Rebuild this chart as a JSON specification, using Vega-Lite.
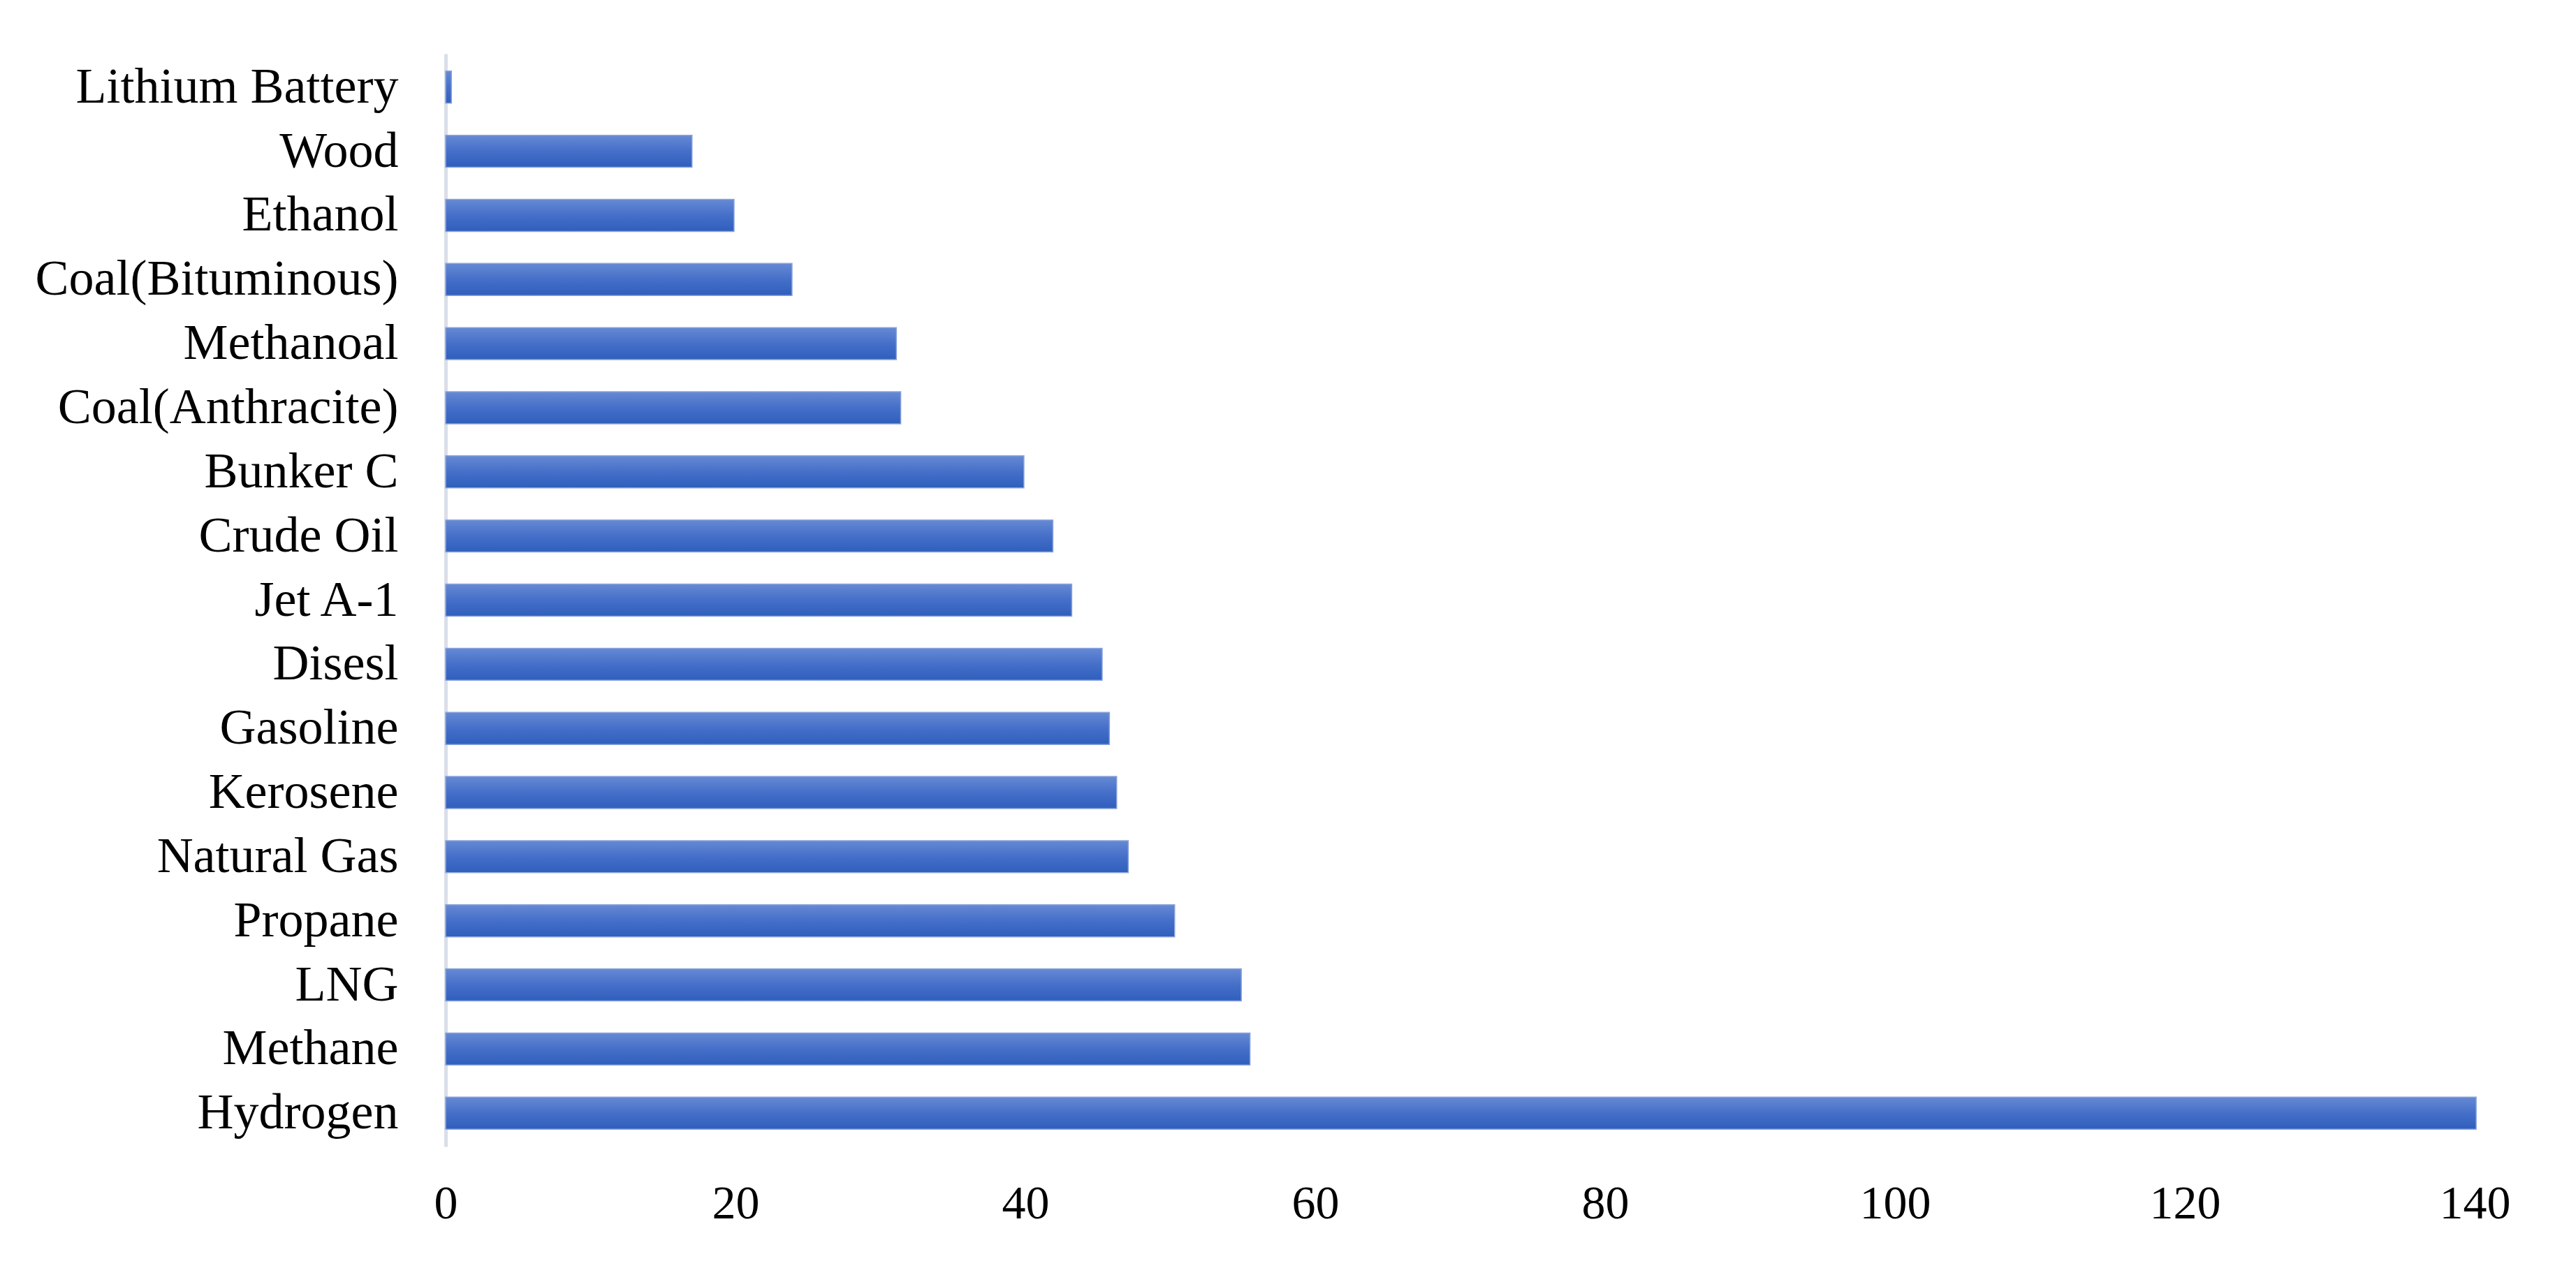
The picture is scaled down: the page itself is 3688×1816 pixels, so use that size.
{
  "$schema": "https://vega.github.io/schema/vega-lite/v6.json",
  "width": 2905,
  "height": 1565,
  "autosize": {"type": "none"},
  "padding": {"left": 638, "top": 77, "right": 145, "bottom": 174},
  "background": "white",
  "config": {
    "view": {"stroke": null},
    "font": "Liberation Serif"
  },
  "data": {
    "values": [
      {"fuel": "Lithium Battery", "value": 0.4},
      {"fuel": "Wood", "value": 17.0},
      {"fuel": "Ethanol", "value": 19.9},
      {"fuel": "Coal(Bituminous)", "value": 23.9},
      {"fuel": "Methanoal", "value": 31.1},
      {"fuel": "Coal(Anthracite)", "value": 31.4},
      {"fuel": "Bunker C", "value": 39.9},
      {"fuel": "Crude Oil", "value": 41.9},
      {"fuel": "Jet A-1", "value": 43.2},
      {"fuel": "Disesl", "value": 45.3},
      {"fuel": "Gasoline", "value": 45.8},
      {"fuel": "Kerosene", "value": 46.3},
      {"fuel": "Natural Gas", "value": 47.1},
      {"fuel": "Propane", "value": 50.3},
      {"fuel": "LNG", "value": 54.9},
      {"fuel": "Methane\u00a0", "value": 55.5},
      {"fuel": "Hydrogen\u00a0", "value": 140.1}
    ]
  },
  "mark": {
    "type": "bar",
    "color": {
      "gradient": "linear",
      "x1": 0, "y1": 0, "x2": 0, "y2": 1,
      "stops": [
        {"offset": 0, "color": "#6689d4"},
        {"offset": 0.5, "color": "#456fc9"},
        {"offset": 1, "color": "#2f5fbc"}
      ]
    },
    "stroke": "#8aa4dc",
    "strokeWidth": 1.5
  },
  "encoding": {
    "y": {
      "field": "fuel",
      "type": "nominal",
      "sort": null,
      "scale": {"paddingInner": 0.5, "paddingOuter": 0.27},
      "axis": {
        "title": null,
        "ticks": false,
        "domain": true,
        "domainColor": "#d9dee8",
        "domainWidth": 5,
        "labelFont": "Liberation Serif",
        "labelFontSize": 72,
        "labelColor": "#000000",
        "labelPadding": 68,
        "labelLimit": 0
      }
    },
    "x": {
      "field": "value",
      "type": "quantitative",
      "scale": {"domain": [0, 140], "nice": false},
      "axis": {
        "title": null,
        "values": [0, 20, 40, 60, 80, 100, 120, 140],
        "grid": false,
        "domain": false,
        "ticks": false,
        "labelFont": "Liberation Serif",
        "labelFontSize": 68,
        "labelColor": "#000000",
        "labelPadding": 48,
        "labelFlush": false
      }
    }
  }
}
